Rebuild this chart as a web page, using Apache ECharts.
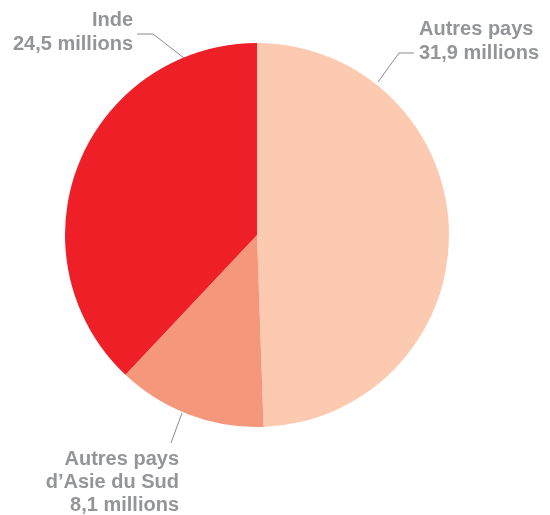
<!DOCTYPE html>
<html>
<head>
<meta charset="utf-8">
<script src="https://cdn.jsdelivr.net/npm/echarts@6/dist/echarts.min.js"></script>
<style>
html,body{margin:0;padding:0;background:#fff;}
#chart{width:550px;height:515px;}
</style>
</head>
<body>
<div id="chart"></div>
<script>
// Data
var categories = ['Autres pays', 'Autres pays\nd\u2019Asie du Sud', 'Inde'];
var values = [31.9, 8.1, 24.5];
var colors = ['#FCC9B1', '#F5977A', '#EE1F27'];

// Label placement (styling)
var labelPos = [
  { x: 419, y: 41, align: 'left', lh: 24, line: [[378, 82], [399, 53], [414, 53]] },
  { x: 179, y: 482, align: 'right', lh: 23, line: [[182, 413], [176.5, 428], [171, 443]] },
  { x: 133, y: 32, align: 'right', lh: 24, line: [[184, 58], [153, 34], [137, 34]] }
];

function frNum(v) {
  return v.toFixed(1).split('.').join(',');
}

var chart = echarts.init(document.getElementById('chart'), null, { renderer: 'canvas' });

var data = categories.map(function (c, i) {
  return {
    name: c,
    value: values[i],
    itemStyle: { color: colors[i] },
    label: { lineHeight: labelPos[i].lh }
  };
});

chart.setOption({
  animation: false,
  series: [{
    type: 'pie',
    center: [257, 235],
    radius: [0, 192],
    startAngle: 90,
    clockwise: true,
    silent: true,
    data: data,
    itemStyle: { borderWidth: 0 },
    label: {
      show: true,
      position: 'outside',
      overflow: 'none',
      fontFamily: 'Liberation Sans, Arial, sans-serif',
      fontWeight: 'bold',
      fontSize: 20,
      lineHeight: 24,
      color: '#939598',
      formatter: function (p) {
        return p.name + '\n' + frNum(values[p.dataIndex]) + ' millions';
      }
    },
    labelLine: {
      show: true,
      lineStyle: { color: '#8a8a8a', width: 1 }
    },
    labelLayout: function (params) {
      var lp = labelPos[params.dataIndex];
      return {
        x: lp.x,
        y: lp.y,
        align: lp.align,
        verticalAlign: 'middle',
        labelLinePoints: lp.line
      };
    }
  }]
});
</script>
</body>
</html>
